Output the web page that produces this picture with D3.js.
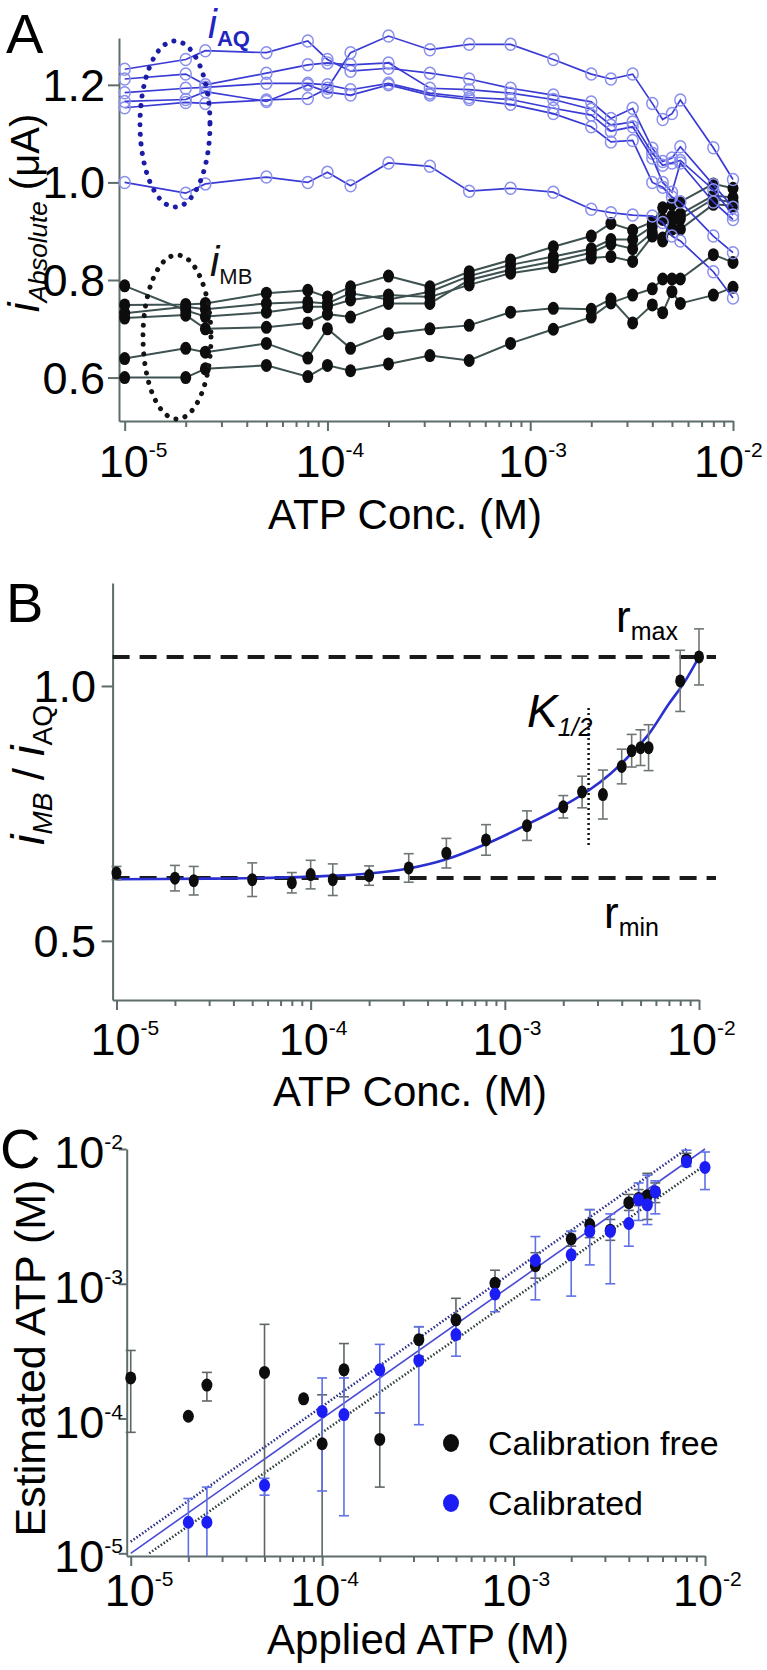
<!DOCTYPE html>
<html><head><meta charset="utf-8">
<script src="https://cdn.jsdelivr.net/npm/d3@7"></script>
<style>body{margin:0;background:#fff} text{font-family:"Liberation Sans",Arial,Helvetica,sans-serif}</style>
</head><body><svg id="c" width="767" height="1670"></svg>
<script>
// ---------- DATA ----------
const atpConc = [1e-5,2e-5,2.5e-5,5e-5,8e-5,1e-4,1.3e-4,2e-4,3.2e-4,5e-4,8e-4,1.3e-3,2e-3,2.5e-3,3.2e-3,4e-3,4.5e-3,5e-3,5.5e-3,8e-3,1e-2];
// Panel A: i_AQ (blue, open circles)
const iAQ1 = [1.232,1.252,1.270,1.266,1.290,1.252,1.228,1.234,1.224,1.212,1.193,1.179,1.165,1.131,1.152,1.070,1.043,1.050,1.073,0.995,0.949];
const iAQ2 = [1.153,1.164,1.162,1.169,1.172,1.193,1.266,1.300,1.272,1.283,1.283,1.252,1.222,1.212,1.222,1.162,1.129,1.141,1.169,1.071,1.006];
const iAQ3 = [1.212,1.222,1.200,1.224,1.241,1.245,1.241,1.245,1.193,1.190,1.183,1.170,1.150,1.117,1.124,1.060,1.035,1.040,1.045,0.985,0.933];
const iAQ4 = [1.184,1.193,1.195,1.203,1.203,1.200,1.190,1.203,1.183,1.174,1.170,1.152,1.138,1.105,1.114,1.050,1.000,0.980,1.040,0.960,0.924];
const iAQ5 = [1.166,1.170,1.186,1.166,1.200,1.185,1.179,1.200,1.179,1.170,1.160,1.141,1.114,1.083,1.086,1.000,0.990,0.970,0.960,0.890,0.856];
const iAQ6 = [1.000,0.978,0.997,1.011,1.000,1.021,0.993,1.040,1.033,0.982,0.988,0.980,0.945,0.938,0.933,0.931,0.918,0.890,0.880,0.817,0.763];
// Panel A: i_MB (black, filled)
const iMB1 = [0.788,0.738,0.725,0.734,0.745,0.745,0.759,0.769,0.765,0.790,0.814,0.827,0.845,0.848,0.838,0.890,0.880,0.904,0.904,0.955,0.952];
const iMB2 = [0.749,0.750,0.752,0.773,0.779,0.765,0.786,0.808,0.786,0.817,0.841,0.868,0.890,0.916,0.902,0.919,0.948,0.955,0.960,0.997,0.988];
const iMB3 = [0.732,0.745,0.740,0.752,0.755,0.752,0.773,0.760,0.776,0.808,0.831,0.848,0.864,0.883,0.883,0.910,0.924,0.931,0.935,0.973,0.969];
const iMB4 = [0.722,0.728,0.700,0.703,0.712,0.730,0.724,0.752,0.752,0.800,0.821,0.838,0.856,0.874,0.864,0.897,0.886,0.920,0.925,0.966,0.959];
const iMB5 = [0.639,0.660,0.652,0.670,0.640,0.700,0.660,0.690,0.700,0.707,0.734,0.742,0.740,0.761,0.712,0.749,0.733,0.776,0.752,0.769,0.785];
const iMB6 = [0.600,0.600,0.618,0.625,0.602,0.625,0.614,0.628,0.645,0.635,0.670,0.699,0.724,0.753,0.769,0.782,0.802,0.802,0.802,0.852,0.836];
// Panel B: ratio i_MB / i_AQ
const ratioMean = [0.633,0.623,0.618,0.620,0.614,0.630,0.620,0.628,0.643,0.672,0.698,0.726,0.763,0.792,0.787,0.842,0.873,0.879,0.879,1.010,1.057];
const ratioErr  = [0.013,0.025,0.028,0.033,0.020,0.028,0.031,0.019,0.028,0.029,0.030,0.029,0.022,0.031,0.048,0.034,0.032,0.035,0.045,0.060,0.055];
const fitConc  = [1e-5,3e-5,1e-4,2e-4,3.2e-4,5e-4,8e-4,1.3e-3,2e-3,2.7e-3,3.5e-3,4.5e-3,5.5e-3,7e-3,8.5e-3,1e-2];
const fitRatio = [0.621,0.622,0.626,0.632,0.642,0.660,0.690,0.728,0.765,0.795,0.828,0.868,0.905,0.965,1.010,1.057];
const rMax = 1.057, rMin = 0.6235, kHalf = 2.7e-3;
// Panel C
const freeConc = [1e-5,2e-5,2.5e-5,5e-5,8e-5,1e-4,1.3e-4,2e-4,3.2e-4,5e-4,8e-4,1.3e-3,2e-3,2.5e-3,3.2e-3,4e-3,4.5e-3,5e-3,5.5e-3,8e-3];
const freeEst  = [2.0e-4,1.04e-4,1.77e-4,2.2e-4,1.4e-4,6.5e-5,2.3e-4,7e-5,3.85e-4,5.4e-4,1.01e-3,1.36e-3,2.15e-3,2.75e-3,2.5e-3,4.0e-3,4.3e-3,4.5e-3,4.8e-3,8.3e-3];
const freeLow  = [7.9e-5,1.04e-4,1.35e-4,1e-6,1.4e-4,1e-6,1.45e-4,3.1e-5,2.9e-4,3.9e-4,8.2e-4,1.1e-3,1.9e-3,2.2e-3,2.1e-3,3.5e-3,3.8e-3,3.0e-3,4.0e-3,7.5e-3];
const freeHigh = [3.2e-4,1.04e-4,2.2e-4,5e-4,1.4e-4,1.5e-4,3.6e-4,1.1e-4,4.8e-4,7.8e-4,1.26e-3,1.7e-3,2.45e-3,3.55e-3,3.0e-3,4.6e-3,5.0e-3,6.6e-3,5.6e-3,9.3e-3];
const calConc  = [2e-5,2.5e-5,5e-5,1e-4,1.3e-4,2e-4,3.2e-4,5e-4,8e-4,1.3e-3,2e-3,2.5e-3,3.2e-3,4e-3,4.5e-3,5e-3,5.5e-3,8e-3,1e-2];
const calEst   = [1.7e-5,1.7e-5,3.2e-5,1.13e-4,1.07e-4,2.3e-4,2.7e-4,4.2e-4,8.4e-4,1.49e-3,1.64e-3,2.45e-3,2.45e-3,2.8e-3,4.2e-3,3.85e-3,4.8e-3,8.05e-3,7.3e-3];
const calLow   = [1e-6,1e-6,2.7e-5,2.9e-5,1.9e-5,1.1e-4,9e-5,2.9e-4,6.2e-4,7.6e-4,8.1e-4,1.38e-3,1.0e-3,1.9e-3,2.95e-3,2.75e-3,3.3e-3,7.4e-3,5.0e-3];
const calHigh  = [2.55e-5,3.1e-5,3.6e-5,2.0e-4,2.0e-4,3.55e-4,4.8e-4,5.4e-4,1.02e-3,2.24e-3,2.45e-3,3.55e-3,3.3e-3,4.2e-3,5.6e-3,6.4e-3,5.8e-3,9.8e-3,9.5e-3];
const idealLine = [[1e-5,1e-5],[1e-2,1e-2]];
const upperLine = [[1e-5,1.22e-5],[8e-3,1e-2]];
const lowerLine = [[1.25e-5,1e-5],[1e-2,7.6e-3]];
// Tick labels
const decadeTicks = [1e-5,1e-4,1e-3,1e-2];
const decadeExp = ["-5","-4","-3","-2"];
const aTickVals = [0.6,0.8,1.0,1.2], aTickLabels = ["0.6","0.8","1.0","1.2"];
const bTickVals = [0.5,1.0], bTickLabels = ["0.5","1.0"];
const cTickVals = [1e-5,1e-4,1e-3,1e-2], cTickExp = ["-5","-4","-3","-2"];
const legendLabels = ["Calibration free","Calibrated"];

// ---------- DRAW ----------
const svg = d3.select("#c");
const AXIS = "#5e6c6c";
const minorTicks = [];
[1e-5,1e-4,1e-3].forEach(d=>{for(let k=2;k<=9;k++) minorTicks.push(d*k);});

function xAxis(scale, y, base, cx, tBase, title){
  const g1 = svg.append("g").attr("transform",`translate(0,${y})`)
    .call(d3.axisBottom(scale).tickValues(minorTicks).tickSize(6).tickSizeOuter(0).tickFormat(""));
  const g2 = svg.append("g").attr("transform",`translate(0,${y})`)
    .call(d3.axisBottom(scale).tickValues(decadeTicks).tickSize(10).tickSizeOuter(0).tickFormat(""));
  g2.select(".domain").remove();
  [g1,g2].forEach(g=>g.selectAll("path,line").attr("stroke",AXIS).attr("stroke-width",2));
  decadeTicks.forEach((v,i)=>{
    let x0 = scale(v) - (i===0 ? 26 : 32);
    if(i===3) x0 = Math.min(x0, 767 - 73);
    const t = svg.append("text").attr("x",x0).attr("y",base).attr("font-size",45);
    t.append("tspan").text("10");
    t.append("tspan").attr("font-size",21).attr("dy",-20).text(decadeExp[i]);
  });
  svg.append("text").attr("x",cx).attr("y",tBase).attr("text-anchor","middle").attr("font-size",42).text(title);
}
function yAxisLin(scale, x, vals, labels, lx){
  const g = svg.append("g").attr("transform",`translate(${x},0)`)
    .call(d3.axisLeft(scale).tickValues(vals).tickSize(11).tickSizeOuter(0).tickFormat(""));
  g.selectAll("path,line").attr("stroke",AXIS).attr("stroke-width",2);
  vals.forEach((v,i)=>svg.append("text").attr("x",lx).attr("y",scale(v)+16).attr("text-anchor","end")
    .attr("font-size",45).text(labels[i]));
}
function panelLabel(t,x,y){svg.append("text").attr("x",x).attr("y",y).attr("font-size",56).text(t);}

// ===== Panel A =====
const xA = d3.scaleLog().domain([Math.pow(10,-5.028),1e-2]).range([119,733]);
const yA = d3.scaleLinear().domain([0.511,1.296]).range([421,38]);
panelLabel("A",6,53);
yAxisLin(yA,119,aTickVals,aTickLabels,105);
xAxis(xA,421,477,405,529,"ATP Conc. (M)");
{
  const t = svg.append("text").attr("transform","translate(39,213) rotate(-90)").attr("text-anchor","middle").attr("font-size",40);
  t.append("tspan").attr("font-style","italic").attr("font-size",44).text("i");
  t.append("tspan").attr("font-style","italic").attr("font-size",26).attr("dy",8).text("Absolute");
  t.append("tspan").attr("dy",-8).text(" (\u03bcA)");
}
const blueSeries=[iAQ1,iAQ2,iAQ3,iAQ4,iAQ5,iAQ6], blackSeries=[iMB1,iMB2,iMB3,iMB4,iMB5,iMB6];
const lnA = d3.line().x(d=>xA(d[0])).y(d=>yA(d[1]));
blackSeries.forEach(s=>{
  const pts = atpConc.map((c,i)=>[c,s[i]]);
  svg.append("path").attr("d",lnA(pts)).attr("fill","none").attr("stroke","#3e5252").attr("stroke-width",2);
});
blackSeries.forEach(s=>{
  svg.append("g").selectAll("ellipse").data(atpConc.map((c,i)=>[c,s[i]])).join("ellipse")
    .attr("cx",d=>xA(d[0])).attr("cy",d=>yA(d[1])).attr("rx",5.5).attr("ry",6.5).attr("fill","#0d0d0d");
});
blueSeries.forEach(s=>{
  const pts = atpConc.map((c,i)=>[c,s[i]]);
  svg.append("path").attr("d",lnA(pts)).attr("fill","none").attr("stroke","#3a3ad4").attr("stroke-width",1.7);
  svg.append("g").selectAll("ellipse").data(pts).join("ellipse")
    .attr("cx",d=>xA(d[0])).attr("cy",d=>yA(d[1])).attr("rx",5.5).attr("ry",6).attr("fill","none")
    .attr("stroke","#8a90ec").attr("stroke-width",1.5);
});
svg.append("ellipse").attr("cx",175).attr("cy",124).attr("rx",35).attr("ry",83).attr("fill","none")
  .attr("stroke","#1c1ca8").attr("stroke-width",5).attr("stroke-linecap","round").attr("stroke-dasharray","0.1 9.5");
svg.append("ellipse").attr("cx",177).attr("cy",337).attr("rx",34).attr("ry",82).attr("fill","none")
  .attr("stroke","#141414").attr("stroke-width",5).attr("stroke-linecap","round").attr("stroke-dasharray","0.1 9.5");
{
  const t = svg.append("text").attr("x",208).attr("y",38).attr("fill","#2424c0").attr("font-size",40);
  t.append("tspan").attr("font-style","italic").text("i");
  t.append("tspan").attr("font-size",22).attr("dy",8).attr("font-weight","bold").text("AQ");
  const t2 = svg.append("text").attr("x",210).attr("y",276).attr("fill","#111").attr("font-size",42);
  t2.append("tspan").attr("font-style","italic").text("i");
  t2.append("tspan").attr("font-size",22).attr("dy",8).text("MB");
}

// ===== Panel B =====
const xB = d3.scaleLog().domain([Math.pow(10,-5.02),1e-2]).range([112.6,699]);
const yB = d3.scaleLinear().domain([0.384,1.202]).range([1000,583]);
panelLabel("B",6,622);
yAxisLin(yB,112.6,bTickVals,bTickLabels,96);
xAxis(xB,1000,1055,410,1106,"ATP Conc. (M)");
{
  const t = svg.append("text").attr("transform","translate(44,775) rotate(-90)").attr("text-anchor","middle").attr("font-size",44);
  t.append("tspan").attr("font-style","italic").attr("font-size",47).text("i");
  t.append("tspan").attr("font-style","italic").attr("font-size",28).attr("dy",8).text("MB");
  t.append("tspan").attr("dy",-8).text(" / ");
  t.append("tspan").attr("font-style","italic").attr("font-size",47).text("i");
  t.append("tspan").attr("font-size",28).attr("dy",8).text("AQ");
}
[rMax,rMin].forEach(v=>svg.append("line").attr("x1",xB.range()[0]).attr("x2",716).attr("y1",yB(v)).attr("y2",yB(v))
  .attr("stroke","#1a1a1a").attr("stroke-width",4).attr("stroke-dasharray","17 10"));
svg.append("line").attr("x1",xB(kHalf)).attr("x2",xB(kHalf)).attr("y1",yB(0.957)).attr("y2",yB(0.682))
  .attr("stroke","#111").attr("stroke-width",2.5).attr("stroke-dasharray","2 3");
{
  const t = svg.append("text").attr("x",527).attr("y",727).attr("font-size",46).attr("font-style","italic");
  t.append("tspan").text("K");
  t.append("tspan").attr("font-size",25).attr("dy",9).text("1/2");
  const r1 = svg.append("text").attr("x",616).attr("y",632).attr("font-size",44);
  r1.append("tspan").text("r"); r1.append("tspan").attr("font-size",25).attr("dy",8).text("max");
  const r2 = svg.append("text").attr("x",604).attr("y",928).attr("font-size",44);
  r2.append("tspan").text("r"); r2.append("tspan").attr("font-size",25).attr("dy",8).text("min");
}
svg.append("path").attr("d",d3.line().curve(d3.curveMonotoneX).x(d=>xB(d[0])).y(d=>yB(d[1]))(fitConc.map((c,i)=>[c,fitRatio[i]])))
  .attr("fill","none").attr("stroke","#2a30d0").attr("stroke-width",2.6);
const bPts = atpConc.map((c,i)=>({c,m:ratioMean[i],e:ratioErr[i]}));
const eb = svg.append("g").attr("stroke","#6e7676").attr("stroke-width",1.6);
bPts.forEach(p=>{
  const x=xB(p.c), y1=yB(p.m+p.e), y2=yB(p.m-p.e);
  eb.append("line").attr("x1",x).attr("x2",x).attr("y1",y1).attr("y2",y2);
  eb.append("line").attr("x1",x-5).attr("x2",x+5).attr("y1",y1).attr("y2",y1);
  eb.append("line").attr("x1",x-5).attr("x2",x+5).attr("y1",y2).attr("y2",y2);
});
svg.append("g").selectAll("ellipse").data(bPts).join("ellipse").attr("cx",d=>xB(d.c)).attr("cy",d=>yB(d.m))
  .attr("rx",5).attr("ry",6.5).attr("fill","#0d0d0d");

// ===== Panel C =====
const xC = d3.scaleLog().domain([Math.pow(10,-5.021),1e-2]).range([126.7,705]);
const yC = d3.scaleLog().domain([Math.pow(10,-5.02),1e-2]).range([1556,1149]);
panelLabel("C",0,1168);
{
  const g = svg.append("g").attr("transform","translate(126.7,0)")
    .call(d3.axisLeft(yC).tickValues(cTickVals).tickSize(8).tickSizeOuter(0).tickFormat(""));
  g.selectAll("path,line").attr("stroke",AXIS).attr("stroke-width",2);
  cTickVals.forEach((v,i)=>{
    const t = svg.append("text").attr("x",123).attr("y",yC(v)+19).attr("text-anchor","end").attr("font-size",45);
    t.append("tspan").text("10");
    t.append("tspan").attr("font-size",21).attr("dy",-19).text(cTickExp[i]);
  });
}
xAxis(xC,1556,1606,418,1654,"Applied ATP (M)");
svg.append("text").attr("transform","translate(45,1358) rotate(-90)").attr("text-anchor","middle").attr("font-size",43).text("Estimated ATP (M)");
const lnC = d3.line().x(d=>xC(d[0])).y(d=>yC(d[1]));
svg.append("path").attr("d",lnC(upperLine)).attr("stroke","#2a2e8a").attr("stroke-width",2.6).attr("stroke-dasharray","1.5 2").attr("fill","none");
svg.append("path").attr("d",lnC(lowerLine)).attr("stroke","#2c3c3c").attr("stroke-width",2.6).attr("stroke-dasharray","1.5 2").attr("fill","none");
svg.append("path").attr("d",lnC(idealLine)).attr("stroke","#4a4ad6").attr("stroke-width",1.6).attr("fill","none");
const yMinC = yC.domain()[0];
function errBars(xs,lo,hi,color){
  const g = svg.append("g").attr("stroke",color).attr("stroke-width",1.6);
  xs.forEach((c,i)=>{
    if(hi[i]===lo[i]) return;
    const x=xC(c), y1=yC(hi[i]), clipped = lo[i]<yMinC, y2=yC(Math.max(lo[i],yMinC));
    g.append("line").attr("x1",x).attr("x2",x).attr("y1",y1).attr("y2",y2);
    g.append("line").attr("x1",x-5).attr("x2",x+5).attr("y1",y1).attr("y2",y1);
    if(!clipped) g.append("line").attr("x1",x-5).attr("x2",x+5).attr("y1",y2).attr("y2",y2);
  });
}
errBars(freeConc,freeLow,freeHigh,"#5e6666");
errBars(calConc,calLow,calHigh,"#6070e6");
svg.append("g").selectAll("ellipse").data(freeConc.map((c,i)=>[c,freeEst[i]])).join("ellipse")
  .attr("cx",d=>xC(d[0])).attr("cy",d=>yC(d[1])).attr("rx",5.5).attr("ry",6.5).attr("fill","#0d0d0d");
svg.append("g").selectAll("ellipse").data(calConc.map((c,i)=>[c,calEst[i]])).join("ellipse")
  .attr("cx",d=>xC(d[0])).attr("cy",d=>yC(d[1])).attr("rx",5.5).attr("ry",6.5).attr("fill","#1c1cf4");
[["#0d0d0d",1443],["#1c1cf4",1503]].forEach((d,i)=>{
  svg.append("ellipse").attr("cx",451).attr("cy",d[1]).attr("rx",8).attr("ry",9).attr("fill",d[0]);
  svg.append("text").attr("x",488).attr("y",d[1]+12).attr("font-size",34).text(legendLabels[i]);
});
</script></body></html>
